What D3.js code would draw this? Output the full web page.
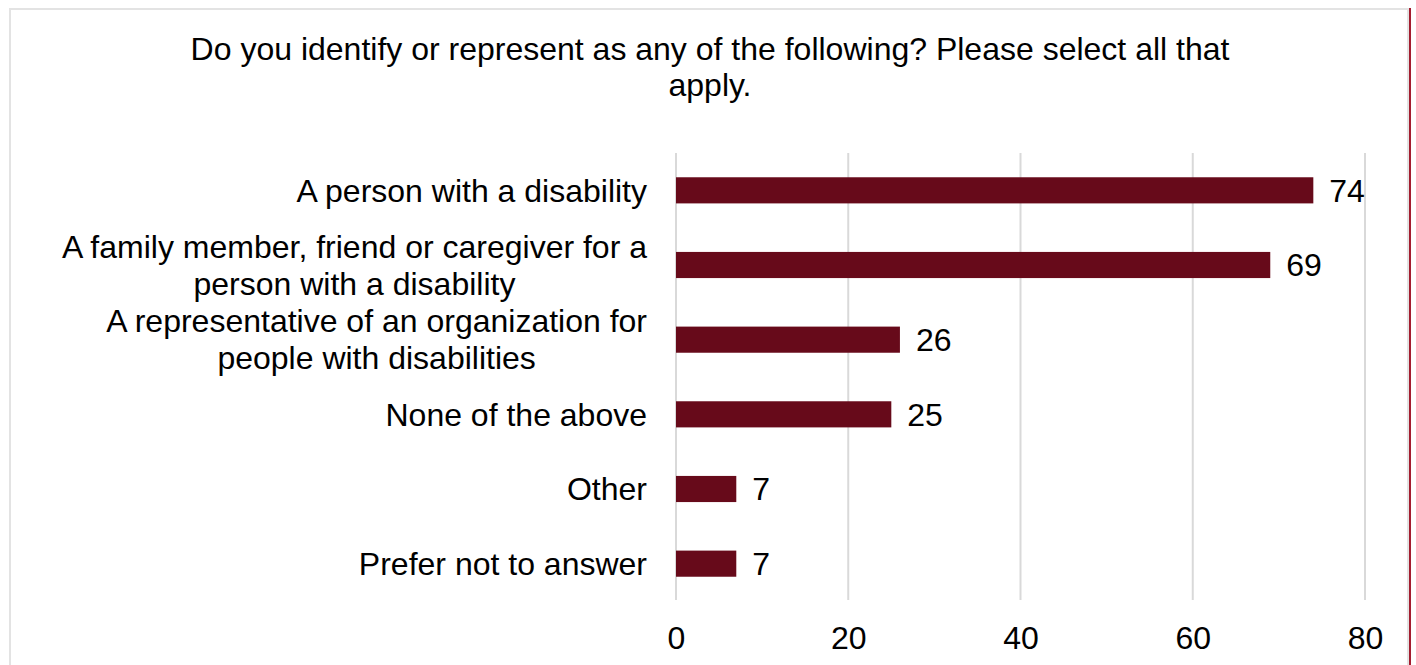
<!DOCTYPE html>
<html>
<head>
<meta charset="utf-8">
<script src="https://cdn.jsdelivr.net/npm/d3@7"></script>
<style>
  html, body { margin: 0; padding: 0; background: #fff; }
  svg { display: block; font-family: "Liberation Sans", Arial, sans-serif; }
</style>
</head>
<body>
<svg id="chart" width="1416" height="665"></svg>
<script>
// Survey responses: counts per identity category
const categories = [
  ["A person with a disability"],
  ["A family member, friend or caregiver for a", "person with a disability"],
  ["A representative of an organization for", "people with disabilities"],
  ["None of the above"],
  ["Other"],
  ["Prefer not to answer"]
];
const values = [74, 69, 26, 25, 7, 7];
const xTicks = [0, 20, 40, 60, 80];
const titleLines = [
  "Do you identify or represent as any of the following? Please select all that",
  "apply."
];

const svg = d3.select("#chart");
const H = 665;
const FS = 32;

// Frame
svg.append("rect").attr("x", 10).attr("y", 9).attr("width", 1398).attr("height", 670)
  .attr("fill", "#fff").attr("stroke", "#e3e3e3").attr("stroke-width", 2);
svg.append("line").attr("x1", 1410).attr("x2", 1410).attr("y1", 8).attr("y2", H)
  .attr("stroke", "#a31c2f").attr("stroke-width", 2);

// Title
svg.append("g").selectAll("text").data(titleLines).join("text")
  .attr("x", 710).attr("y", (d, i) => 60 + i * 36)
  .attr("text-anchor", "middle").attr("font-size", FS).attr("fill", "#000")
  .text(d => d);

const x = d3.scaleLinear().domain([0, 80]).range([676, 1365]);
const y = d3.scaleBand().domain(d3.range(categories.length)).range([153, 601]).paddingInner(0.65).paddingOuter(0.325);

// Gridlines
svg.append("g").selectAll("line").data(xTicks).join("line")
  .attr("x1", d => x(d)).attr("x2", d => x(d))
  .attr("y1", 153).attr("y2", 600)
  .attr("stroke", "#d9d9d9").attr("stroke-width", 2);

// Bars
svg.append("g").selectAll("rect").data(values).join("rect")
  .attr("x", x(0)).attr("y", (d, i) => y(i))
  .attr("width", d => x(d) - x(0)).attr("height", y.bandwidth())
  .attr("fill", "#670a1a");

// Value labels
svg.append("g").selectAll("text").data(values).join("text")
  .attr("x", d => x(d) + 16).attr("y", (d, i) => y(i) + y.bandwidth() / 2)
  .attr("dy", "0.35em").attr("font-size", FS).attr("fill", "#000")
  .text(d => d);

// Category labels: single lines right-aligned; wrapped second line centred under the first
const catG = svg.append("g");
categories.forEach((lines, i) => {
  const cy = y(i) + y.bandwidth() / 2;
  if (lines.length === 1) {
    catG.append("text").attr("font-size", FS).attr("fill", "#000")
      .attr("text-anchor", "end").attr("x", 647)
      .attr("y", cy).attr("dy", "0.35em").text(lines[0]);
  } else {
    const first = catG.append("text").attr("font-size", FS).attr("fill", "#000")
      .attr("text-anchor", "end").attr("x", 647)
      .attr("y", cy - 18.5).attr("dy", "0.35em").text(lines[0]);
    const w = first.node().getComputedTextLength();
    catG.append("text").attr("font-size", FS).attr("fill", "#000")
      .attr("text-anchor", "middle").attr("x", 647 - w / 2)
      .attr("y", cy + 18.5).attr("dy", "0.35em").text(lines[1]);
  }
});

// X axis tick labels
const xAxis = d3.axisBottom(x).tickValues(xTicks).tickSize(0).tickPadding(0);
const ax = svg.append("g").attr("transform", "translate(0,626)").call(xAxis);
ax.select(".domain").remove();
ax.selectAll("text").attr("font-size", FS).attr("fill", "#000")
  .attr("font-family", "Liberation Sans, Arial, sans-serif");
</script>
</body>
</html>
